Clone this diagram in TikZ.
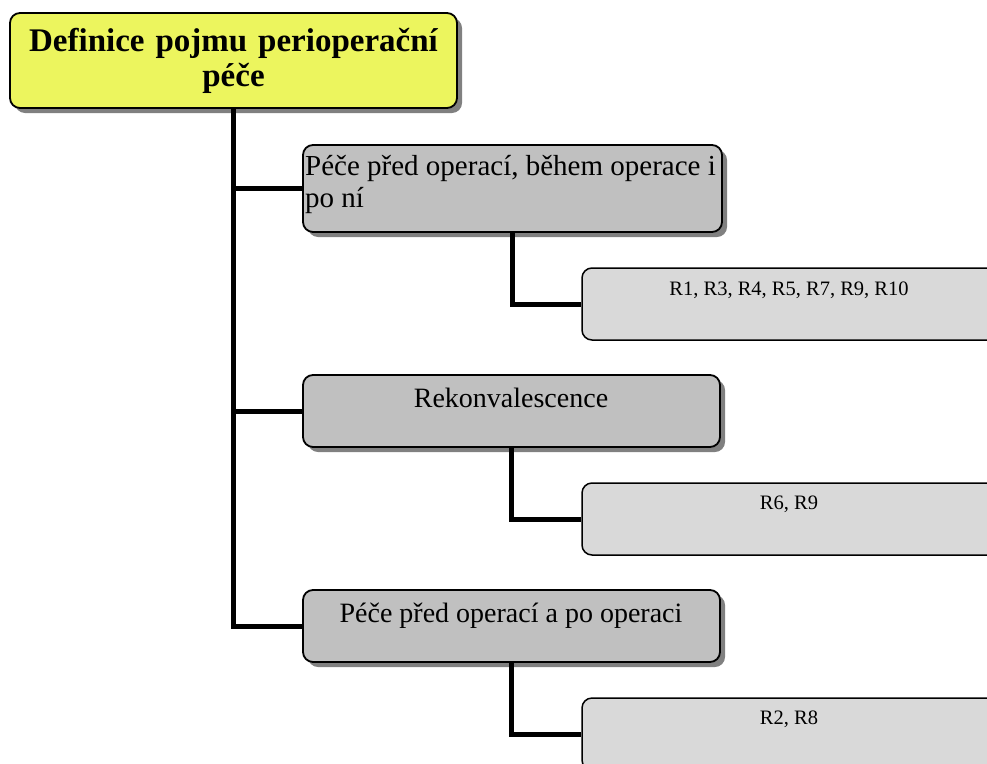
\documentclass[tikz,border=0pt]{standalone}
\usepackage{fontspec}
\setmainfont{Liberation Serif}
\usetikzlibrary{shadows}
\definecolor{rootyellow}{RGB}{236,245,94}
\definecolor{midgray}{RGB}{192,192,192}
\definecolor{leafgray}{RGB}{217,217,217}
\definecolor{shadowgray}{RGB}{128,128,128}
\begin{document}
\begin{tikzpicture}[x=1pt,y=-1pt,
  box/.style={draw=black, line width=1.8pt, rounded corners=10pt, inner sep=0pt},
  rootbox/.style={box, fill=rootyellow,
    drop shadow={shadow xshift=5pt, shadow yshift=-5pt, fill=shadowgray, opacity=1}},
  midbox/.style={box, fill=midgray, minimum width=417pt, minimum height=72pt,
    drop shadow={shadow xshift=5pt, shadow yshift=-5pt, fill=shadowgray, opacity=1}},
  leafbox/.style={box, line width=1.5pt, fill=leafgray, minimum width=416pt, minimum height=72pt},
  midtext/.style={anchor=base, inner sep=0pt, font=\fontsize{28}{32}\selectfont},
  leaftext/.style={anchor=base, inner sep=0pt, font=\fontsize{20.5}{24}\selectfont},
  conn/.style={draw=black, line width=5pt, line join=miter}]
\useasboundingbox (0,0) rectangle (987,763);
\clip (0,0) rectangle (987,763);

% root of the tree
\node[rootbox, minimum width=447pt, minimum height=95pt, text width=440pt,
      align=center, font=\bfseries\fontsize{33}{35}\selectfont]
      (root) at (233.5,60.5) {Definice pojmu perioperační\\péče};

% second level
\node[midbox, minimum width=419pt, minimum height=87pt] (care) at (512.5,188.5) {};
\node[midtext, anchor=base west, font=\fontsize{29}{32}\selectfont]
      (caretexta) at (305,175) {Péče před operací, během operace i};
\node[midtext, anchor=base west, font=\fontsize{29}{32}\selectfont]
      (caretextb) at (305,207) {po ní};
\node[midbox] (rekon) at (511.5,411) {};
\node[midtext] (rekontext) at (511,407) {Rekonvalescence};
\node[midbox] (preop) at (511.5,626) {};
\node[midtext] (preoptext) at (511,622) {Péče před operací a po operaci};

% third level
\node[leafbox] (leafa) at (790,304) {};
\node[leaftext] (leafatext) at (789,295) {R1, R3, R4, R5, R7, R9, R10};
\node[leafbox] (leafb) at (790,519) {};
\node[leaftext] (leafbtext) at (789,509) {R6, R9};
\node[leafbox] (leafc) at (790,734) {};
\node[leaftext] (leafctext) at (789,724) {R2, R8};

% connectors
\draw[conn] (root.south) |- (care.west);
\draw[conn] (root.south) |- (rekon.west);
\draw[conn] (root.south) |- (preop.west);
\draw[conn] (care.south) |- (leafa.west);
\draw[conn] (rekon.south) |- (leafb.west);
\draw[conn] (preop.south) |- (leafc.west);
\end{tikzpicture}
\end{document}
